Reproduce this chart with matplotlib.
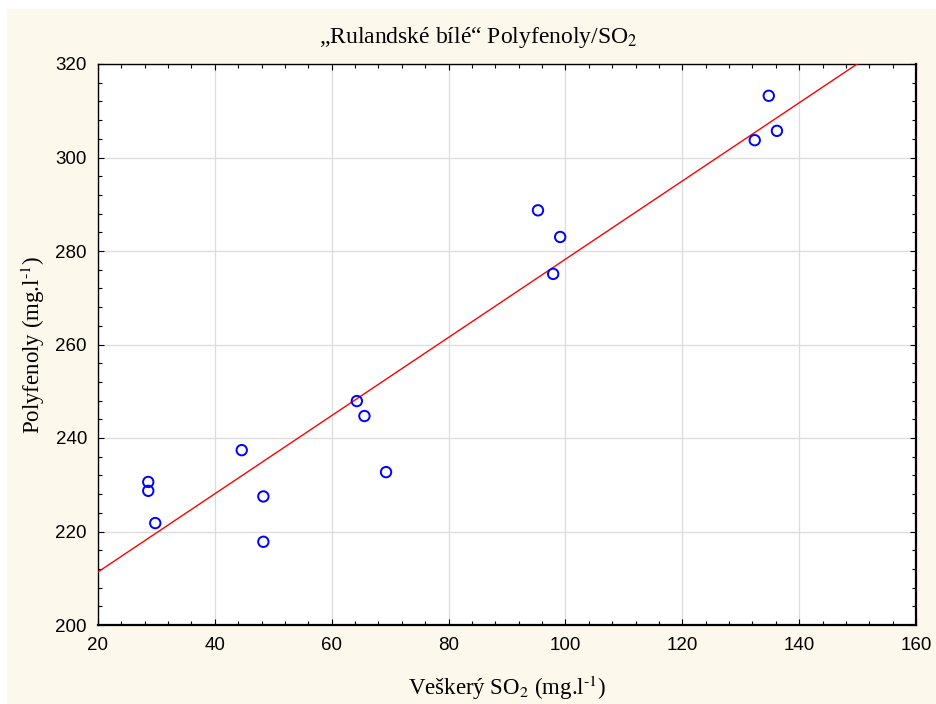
import numpy as np
import matplotlib.pyplot as plt
from matplotlib.ticker import MultipleLocator
from matplotlib.patches import Rectangle

# Total SO2 (mg/l) and polyphenols (mg/l) for the samples
so2 = [28.6, 28.6, 29.8, 44.6, 48.3, 48.3, 64.3, 65.6, 69.3,
       95.3, 99.1, 97.9, 132.4, 134.8, 136.2]
polyfenoly = [230.6, 228.7, 221.8, 237.4, 227.5, 217.8, 247.9, 244.7, 232.7,
              288.7, 283.0, 275.1, 303.7, 313.2, 305.7]

x_ticks = [20, 40, 60, 80, 100, 120, 140, 160]
y_ticks = [200, 220, 240, 260, 280, 300, 320]

cream = "#fdf8ec"
fig = plt.figure(figsize=(9.36, 7.04), dpi=100)
fig.patch.set_facecolor("white")
fig.add_artist(Rectangle((7 / 936, 0), 1, 1 - 9 / 704, transform=fig.transFigure,
                         facecolor=cream, edgecolor="none", zorder=-10))

ax = fig.add_axes([98 / 936, 1 - 625 / 704, (916 - 98) / 936, (625 - 64) / 704])
ax.set_facecolor("white")

# least-squares regression line
slope, intercept = np.polyfit(so2, polyfenoly, 1)
xl = np.array([x_ticks[0], x_ticks[-1]])
ax.plot(xl, intercept + slope * xl, color="#ff0000", lw=1.0, zorder=3)

ax.scatter(so2, polyfenoly, s=56, facecolors="none", edgecolors="#0000ff",
           linewidths=1.4, zorder=4)

ax.set_xlim(x_ticks[0], x_ticks[-1])
ax.set_ylim(y_ticks[0], y_ticks[-1])
ax.set_xticks(x_ticks)
ax.set_yticks(y_ticks)
ax.xaxis.set_minor_locator(MultipleLocator(4))
ax.yaxis.set_minor_locator(MultipleLocator(4))
ax.grid(True, which="major", color="#dcdcdc", lw=0.9, zorder=0)
ax.set_axisbelow(True)
ax.tick_params(which="both", direction="in", top=True, right=True,
               color="black", width=0.8)
ax.tick_params(which="major", length=4, labelsize=13.5)
ax.tick_params(axis="x", which="major", pad=9)
ax.tick_params(axis="y", which="major", pad=8)
ax.tick_params(which="minor", length=3)
for lab in ax.get_xticklabels() + ax.get_yticklabels():
    lab.set_fontfamily("Liberation Sans")
for s in ax.spines.values():
    s.set_color("black")
    s.set_linewidth(1.0)
ax.spines["right"].set_linewidth(1.6)
ax.spines["bottom"].set_linewidth(1.6)

serif = "Liberation Serif"
fig.text(478 / 936, 1 - 38 / 704, "„Rulandské bílé“ Polyfenoly/SO$_2$",
         ha="center", va="center", fontsize=17, family=serif,
         math_fontfamily="stix")
ax.set_xlabel("Veškerý SO$_2$ (mg.l$^{\\text{-1}}$)", fontsize=16.5, family=serif,
              math_fontfamily="stix")
ax.set_ylabel("Polyfenoly (mg.l$^{\\text{-1}}$)", fontsize=16.5, family=serif,
              math_fontfamily="stix")
ax.xaxis.label.set_va("center")
ax.yaxis.label.set_va("center")
ax.xaxis.set_label_coords(0.5, (625 - 688) / 561)
ax.yaxis.set_label_coords((33 - 98) / 818, 0.5)

fig.savefig("out.png", dpi=100, facecolor=fig.get_facecolor())
